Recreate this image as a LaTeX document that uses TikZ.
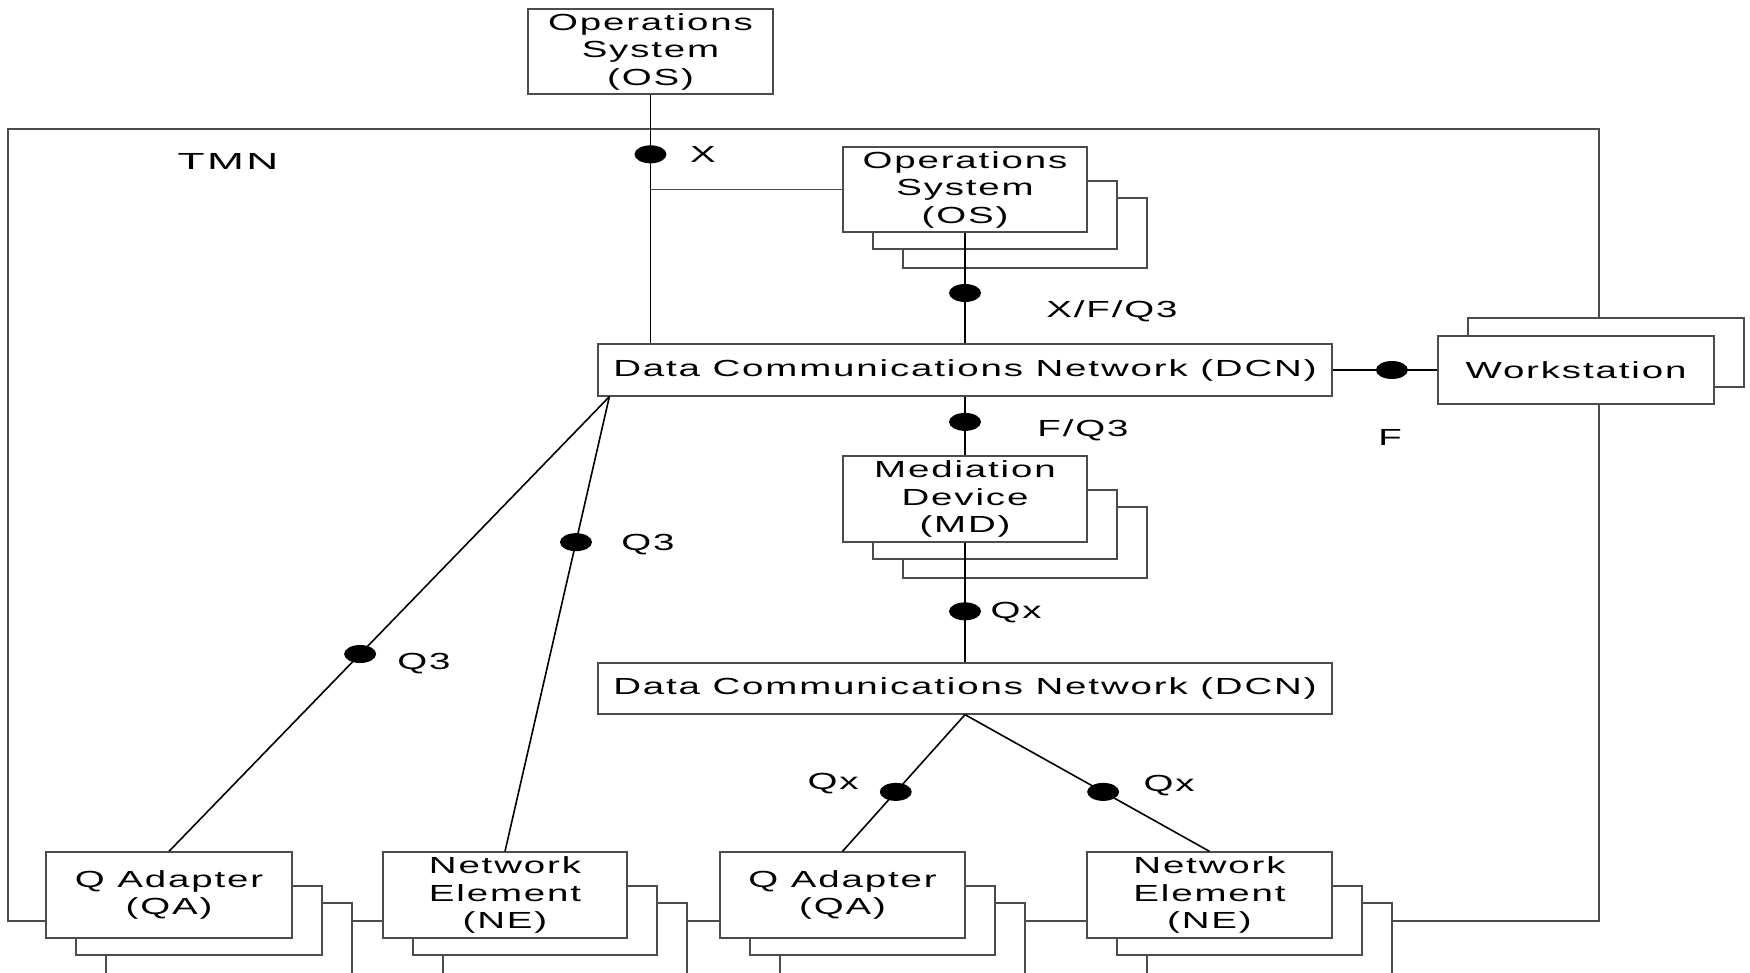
\documentclass[tikz,border=0pt]{standalone}
\usepackage{fontspec}
\setmainfont[FakeStretch=1.65,LetterSpace=8]{Liberation Sans}
\newfontfamily\tmnfont[FakeStretch=1.9,LetterSpace=10]{Liberation Sans}
\usetikzlibrary{calc,shapes.geometric}

% back copies of a stacked box: left, top, right, bottom
\newcommand{\stackboxes}[4]{%
  \draw[box] (#1+60,#2+51) rectangle (#3+60,#4+36);
  \draw[box] (#1+30,#2+34) rectangle (#3+30,#4+17);
}

\begin{document}
\begin{tikzpicture}[x=1pt,y=-1pt,
  box/.style={draw=black!70, line width=1.3pt, fill=white},
  unit/.style={box, inner sep=0pt, align=center, font=\fontsize{23.3}{27.5}\selectfont},
  conn/.style={line width=1.6pt},
  dot/.style={ellipse, fill, inner sep=0pt, minimum width=32pt, minimum height=18pt},
  lbl/.style={inner sep=0pt, text height=16.7pt, text depth=0pt, font=\fontsize{23.3}{27.5}\selectfont}]

\useasboundingbox (0,0) rectangle (1750,973);
\clip (0,0) rectangle (1750,973);

% TMN frame
\draw[draw=black!70, line width=1.3pt] (8,129) rectangle (1599,921);
\node[lbl, font=\tmnfont\fontsize{23.3}{27.5}\selectfont] (tmn) at (228,161) {TMN};

\node[unit, minimum width=245pt, minimum height=85pt] (osTop) at (650.5,51.5) {Operations\\System\\(OS)};

\stackboxes{843}{147}{1087}{232}
\node[unit, minimum width=244pt, minimum height=85pt] (osB) at (965,189.5) {Operations\\System\\(OS)};

\node[unit, minimum width=734pt, minimum height=52pt] (dcnA) at (965,370) {Data Communications Network (DCN)};

\draw[box] (1468,318) rectangle (1744,387);
\node[unit, minimum width=276pt, minimum height=68pt] (ws) at (1576,370) {Workstation};

\stackboxes{843}{456}{1087}{542}
\node[unit, minimum width=244pt, minimum height=86pt] (md) at (965,499) {Mediation\\Device\\(MD)};

\node[unit, minimum width=734pt, minimum height=51pt] (dcnB) at (965,688.5) {Data Communications Network (DCN)};

\stackboxes{46}{852}{292}{938}
\node[unit, minimum width=246pt, minimum height=86pt] (qaA) at (169,895) {Q Adapter\\(QA)};
\stackboxes{383}{852}{627}{938}
\node[unit, minimum width=244pt, minimum height=86pt] (neA) at (505,895) {Network\\Element\\(NE)};
\stackboxes{720}{852}{965}{938}
\node[unit, minimum width=245pt, minimum height=86pt] (qaB) at (842.5,895) {Q Adapter\\(QA)};
\stackboxes{1087}{852}{1332}{938}
\node[unit, minimum width=245pt, minimum height=86pt] (neB) at (1209.5,895) {Network\\Element\\(NE)};

% connections
\draw[conn] (osTop) -- node[dot, pos=0.24] {} (osTop |- dcnA.north);
\draw[draw=black!70, line width=1.2pt] (osTop |- osB.west) -- (osB.west);
\draw[conn] (osB) -- node[dot, pos=0.545] {} (osB |- dcnA.north);
\draw[conn] (dcnA.east) -- node[dot, pos=0.566] {} (ws.west);
\draw[conn] (dcnA) -- node[dot, pos=0.43] {} (md);
\draw[conn] (md) -- node[dot, pos=0.574] {} (dcnB);
\draw[conn] (dcnB.south) -- node[dot, pos=0.565] {} (qaB.north);
\draw[conn] (dcnB.south) -- node[dot, pos=0.565] {} (neB.north);
\coordinate (dcnAfoot) at ($(dcnA.south west)+(12,0)$);
\draw[conn] (dcnAfoot) -- node[dot, pos=0.566] {} (qaA.north);
\draw[conn] (dcnAfoot) -- node[dot, pos=0.32] {} (neA.north);

% interface labels
\node[lbl] (lX) at (703,154) {X};
\node[lbl] (lXFQ) at (1112,309) {X/F/Q3};
\node[lbl] (lFQ) at (1083,428) {F/Q3};
\node[lbl] (lF) at (1390,437) {F};
\node[lbl] (lQxMD) at (1016,610) {Qx};
\node[lbl] (lQ3ne) at (648,542) {Q3};
\node[lbl] (lQ3qa) at (424,661) {Q3};
\node[lbl] (lQxqa) at (833,781) {Qx};
\node[lbl] (lQxne) at (1169,783) {Qx};

\end{tikzpicture}
\end{document}
